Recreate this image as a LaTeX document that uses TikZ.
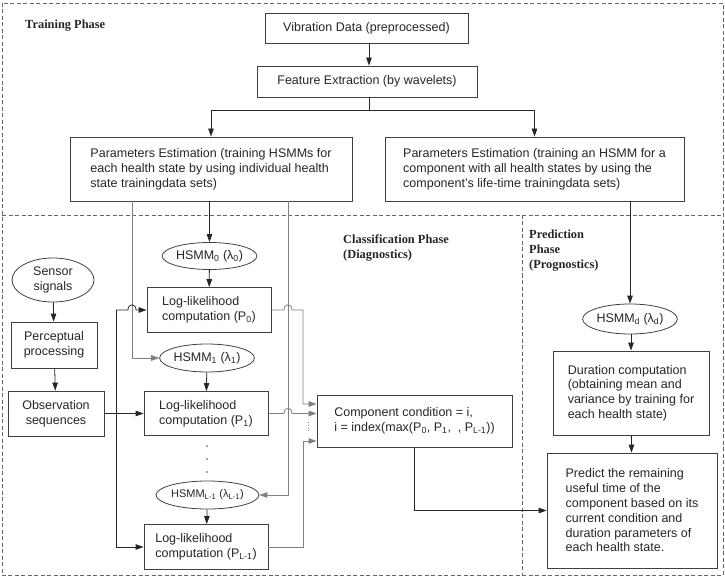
\documentclass[tikz,border=0pt]{standalone}
\usepackage{fontspec}
\setmainfont{Liberation Sans}
\newfontfamily\headfont{Liberation Serif}
\usetikzlibrary{arrows.meta,shapes.geometric}
\begin{document}
\begin{tikzpicture}[x=1pt,y=-1pt,
  every node/.style={font=\fontsize{12.5}{14.8}\selectfont, text=black!85},
  box/.style={draw=black!75, line width=0.8pt, align=left, inner sep=0pt},
  oval/.style={ellipse, draw=black!75, line width=0.8pt, inner sep=0pt},
  head/.style={font=\headfont\bfseries\fontsize{12.4}{15}\selectfont, align=left, anchor=west, inner sep=0pt},
  arr/.style={-{Triangle[length=8pt,width=5.5pt]}, line width=0.8pt, draw=black!85},
  garr/.style={arr, draw=black!50},
  phase/.style={draw=black!60, line width=0.6pt, dash pattern=on 4pt off 2.5pt},
]
\useasboundingbox (0,0) rectangle (725,577);
% phase frames
\draw[phase] (2,3) rectangle (723,575);
\draw[phase] (2,215) -- (723,215);
\draw[phase] (522,215) -- (522,575);
% headings
\node[head] (tp) at (25,26) {Training Phase};
\node[head] (cp) at (343,248.5) {Classification Phase\\(Diagnostics)};
\node[head] (pp) at (529,251) {Prediction\\Phase\\(Prognostics)};
% training nodes
\node[box, align=center, minimum width=203, minimum height=30] (vib) at (366.5,28) {Vibration Data (preprocessed)};
\node[box, align=center, minimum width=220, minimum height=31] (feat) at (367,81.5) {Feature Extraction (by wavelets)};
\node[box, minimum width=282, minimum height=64] (pleft) at (211,169) {Parameters Estimation (training HSMMs for\\each health state by using individual health\\state trainingdata sets)};
\node[box, minimum width=299, minimum height=64] (pright) at (534.5,169) {Parameters Estimation (training an HSMM for a\\component with all health states by using the\\component’s life-time trainingdata sets)};
% classification nodes
\node[oval, minimum width=91, minimum height=27] (hsmm0) at (209.5,256) {HSMM\textsubscript{0} (λ\textsubscript{0})};
\node[box, minimum width=124, minimum height=45] (p0) at (209,310) {Log-likelihood\\computation (P\textsubscript{0})};
\node[oval, minimum width=92, minimum height=28] (hsmm1) at (207,358) {HSMM\textsubscript{1} (λ\textsubscript{1})};
\node[box, minimum width=124, minimum height=44] (p1) at (206,413.5) {Log-likelihood\\computation (P\textsubscript{1})};
\node[oval, minimum width=93, minimum height=28, font=\fontsize{11}{13}\selectfont] (hsmmL) at (207.5,495) {HSMM\textsubscript{L-1} (λ\textsubscript{L-1})};
\node[box, minimum width=124, minimum height=45] (pL) at (206,547) {Log-likelihood\\computation (P\textsubscript{L-1})};
\node[oval, align=center, minimum width=82, minimum height=44] (sensor) at (53,280) {Sensor\\signals};
\node[box, align=center, minimum width=86, minimum height=46] (percept) at (54,345) {Perceptual\\processing};
\node[box, align=center, minimum width=96, minimum height=45] (obs) at (56,413.5) {Observation\\sequences};
\node[box, minimum width=195, minimum height=52] (comp) at (414.5,421) {Component condition = i,\\i = index(max(P\textsubscript{0}, P\textsubscript{1}, \ , P\textsubscript{L-1}))};
% prediction nodes
\node[oval, minimum width=91, minimum height=30] (hsmmd) at (630,319) {HSMM\textsubscript{d} (λ\textsubscript{d})};
\node[box, minimum width=156, minimum height=84] (dur) at (631,393) {Duration computation\\(obtaining mean and\\variance by training for\\each health state)};
\node[box, minimum width=170, minimum height=115] (pred) at (632,510.5) {Predict the remaining\\useful time of the\\component based on its\\current condition and\\duration parameters of\\each health state.};
% helper coordinates
\coordinate (br) at (369,110);
\coordinate (la) at (132,201);
\coordinate (lb) at (288,201);
\coordinate (j1) at (116,310);
\coordinate (c404) at (0,404);
\coordinate (c441) at (0,441);
% training connectors
\draw[arr] (vib.south -| br) -- (feat.north -| br);
\draw[line width=0.8pt, draw=black!85] (feat.south -| br) -- (br);
\draw[arr] (br) -| (pleft.north);
\draw[arr] (br) -| (pright.north);
% classification connectors
\draw[arr] (pleft.south -| hsmm0.north) -- (hsmm0.north);
\draw[arr] (hsmm0) -- (p0);
\draw[garr] (la) |- (hsmm1.west);
\draw[garr] (lb) |- (hsmmL.east);
\draw[arr] (hsmm1) -- (p1);
\draw[arr] (hsmmL) -- (pL);
\draw[arr] (sensor) -- (percept);
\draw[arr] (percept) -- (obs);
\draw[arr] (obs.east) -- (obs.east -| p1.west);
\draw[arr] (j1) -- (128,310) .. controls (128,303) and (136,303) .. (136,310) -- (p0.west);
\draw[arr] (j1) |- (pL.west);
\draw[garr] (p0.east) -- (284,310) .. controls (284,303) and (292,303) .. (292,310) -- (303,310) -- (303,404) -- (comp.west |- c404);
\draw[garr] (p1.east) -- (284,413.5) .. controls (284,406.5) and (292,406.5) .. (292,413.5) -- (comp.west |- p1.east);
\draw[garr] (pL.east) -- (303,547) -- (303,441) -- (comp.west |- c441);
\draw[dotted, draw=black!50, line width=0.8pt] (308,422) -- (308,433);
\foreach \yy in {446,459,472} \fill[black!70] (207,\yy) circle (0.8);
\draw[arr] (comp.south) |- (pred.west);
% prediction connectors
\draw[arr] (hsmmd.north |- pright.south) -- (hsmmd.north);
\draw[arr] (hsmmd.south -| dur.north) -- (dur.north);
\draw[arr] (dur) -- (pred);
\end{tikzpicture}
\end{document}
